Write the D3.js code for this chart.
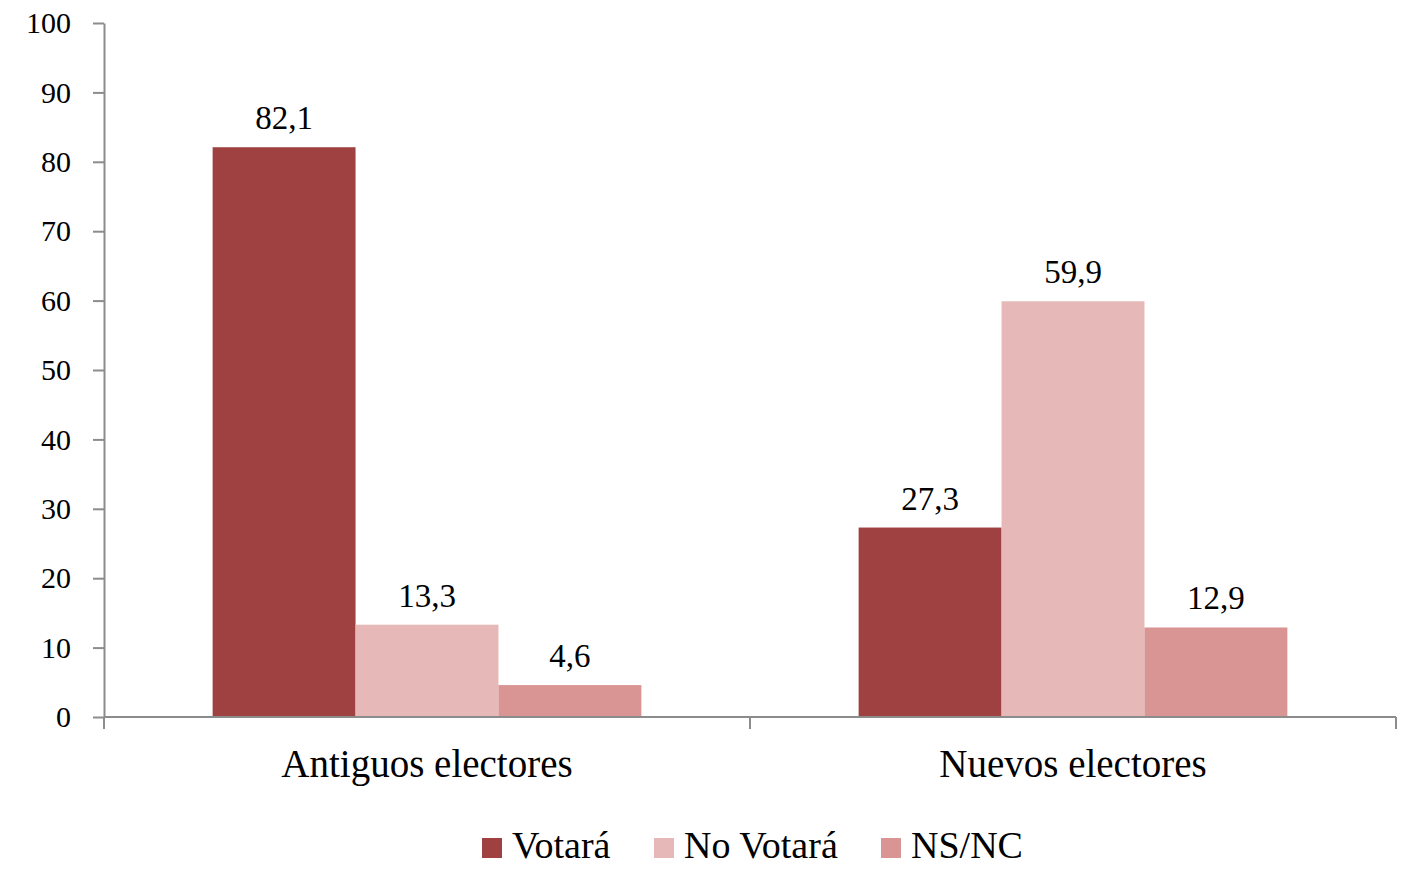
<!DOCTYPE html>
<html><head><meta charset="utf-8">
<script src="https://cdn.jsdelivr.net/npm/d3@7"></script>
<style>body{margin:0;background:#fff}svg{display:block}text{font-family:"Liberation Serif","DejaVu Serif",serif;fill:#000}</style>
</head><body>
<svg id="c" width="1403" height="872"></svg>
<script>
const categories = ["Antiguos electores", "Nuevos electores"];
const seriesNames = ["Votará", "No Votará", "NS/NC"];
const votara = [82.1, 27.3];
const noVotara = [13.3, 59.9];
const nsnc = [4.6, 12.9];
const yTicks = [0,10,20,30,40,50,60,70,80,90,100];
const colors = ["#9E4140", "#E6B8B7", "#D99594"];

const seriesValues = [votara, noVotara, nsnc];
const svg = d3.select("#c");
const mLeft = 104, mRight = 1396, mTop = 23, mBottom = 717;

const x0 = d3.scaleBand().domain(categories).range([mLeft, mRight]).paddingInner(0).paddingOuter(0);
const x1 = d3.scaleBand().domain(seriesNames).range([0, x0.bandwidth()]).paddingOuter(0.76).paddingInner(0);
const y = d3.scaleLinear().domain([0, 100]).range([mBottom, mTop]);

const fmt = v => String(v).replace(".", ",");

// bars
categories.forEach((c, ci) => {
  seriesNames.forEach((s, si) => {
    const v = seriesValues[si][ci];
    svg.append("rect")
      .attr("x", x0(c) + x1(s))
      .attr("y", y(v))
      .attr("width", x1.bandwidth())
      .attr("height", y(0) - y(v))
      .attr("fill", colors[si]);
    svg.append("text")
      .attr("x", x0(c) + x1(s) + x1.bandwidth() / 2)
      .attr("y", y(v) - 18)
      .attr("text-anchor", "middle")
      .style("font-size", "33px")
      .text(fmt(v));
  });
});

// y axis
const yAxis = d3.axisLeft(y).tickValues(yTicks).tickSize(11).tickPadding(22).tickSizeOuter(0);
const gy = svg.append("g").attr("transform", `translate(${mLeft},0)`).call(yAxis);
gy.selectAll("path,line").attr("stroke", "#8c8c8c").attr("stroke-width", 2);
gy.selectAll("text").style("font-size", "30px").style("font-family", '"Liberation Serif",serif').attr("fill", "#000");

// x axis
const gx = svg.append("g").attr("transform", `translate(0,${mBottom})`);
gx.append("line").attr("x1", mLeft).attr("x2", mRight).attr("stroke", "#8c8c8c").attr("stroke-width", 2);
const bounds = [mLeft, ...categories.map(c => x0(c) + x0.bandwidth())];
gx.selectAll("line.t").data(bounds).enter().append("line")
  .attr("x1", d => d).attr("x2", d => d).attr("y1", 0).attr("y2", 12)
  .attr("stroke", "#8c8c8c").attr("stroke-width", 2);
gx.selectAll("text.c").data(categories).enter().append("text")
  .attr("x", d => x0(d) + x0.bandwidth() / 2)
  .attr("y", 60)
  .attr("text-anchor", "middle")
  .style("font-size", "39px")
  .text(d => d);

// legend
const legX = [482, 654, 881];
const lg = svg.append("g");
seriesNames.forEach((s, i) => {
  lg.append("rect").attr("x", legX[i]).attr("y", 838).attr("width", 20).attr("height", 20).attr("fill", colors[i]);
  lg.append("text").attr("x", legX[i] + 30).attr("y", 858).style("font-size", "38px").text(s);
});
</script>
</body></html>
